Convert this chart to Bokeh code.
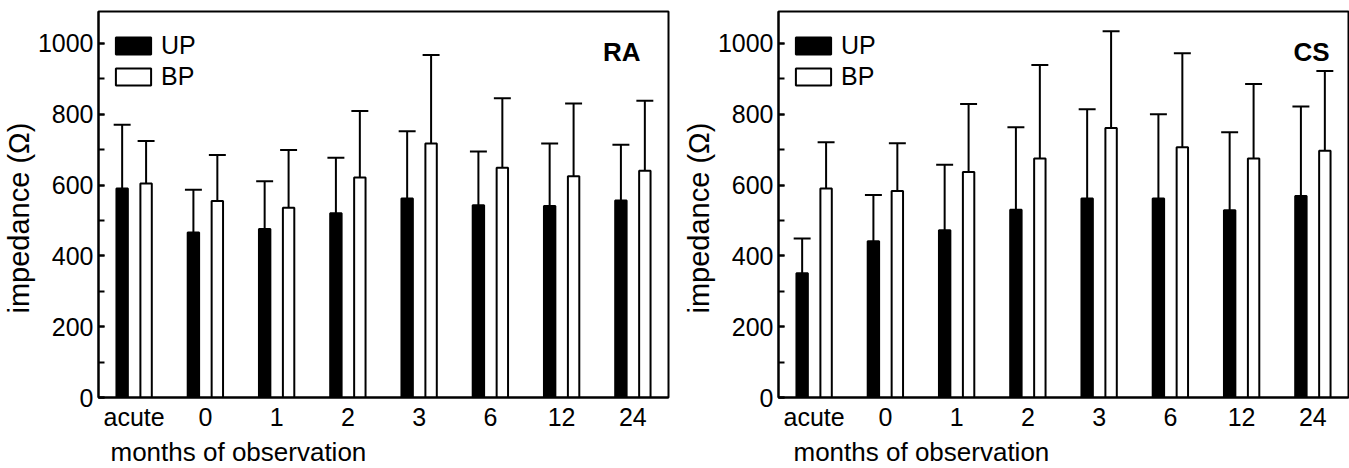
from bokeh.plotting import figure
from bokeh.layouts import row
from bokeh.models import (ColumnDataSource, FactorRange, Range1d, SingleIntervalTicker,
                          Legend, LegendItem, Label, Title)
from bokeh.transform import dodge
from bokeh.embed import file_html
from bokeh.resources import INLINE

# ---------------- data ----------------
categories = ["acute", "0", "1", "2", "3", "6", "12", "24"]

ra_up = [590, 466, 476, 520, 562, 543, 541, 556]
ra_up_top = [770, 587, 611, 677, 752, 695, 717, 714]
ra_bp = [604, 555, 536, 621, 717, 649, 625, 640]
ra_bp_top = [724, 685, 699, 809, 967, 845, 830, 838]

cs_up = [351, 441, 472, 530, 562, 562, 529, 569]
cs_up_top = [449, 572, 657, 763, 814, 800, 749, 822]
cs_bp = [590, 583, 637, 675, 761, 707, 675, 697]
cs_bp_top = [721, 718, 829, 939, 1034, 972, 885, 922]

series_labels = ["UP", "BP"]
y_label = "impedance (Ω)"
x_label = "months of observation"

FONT = "Liberation Sans"
OFF = 0.168
BW = 0.16
CAP = 0.119


def make_panel(tag, up, up_top, bp, bp_top, width, border_left, border_right,
               xlab_off, tag_x):
    p = figure(x_range=FactorRange(factors=categories), y_range=Range1d(0, 1090),
               width=width, height=468, output_backend="svg", toolbar_location=None,
               min_border_left=border_left, min_border_right=border_right,
               min_border_top=11, min_border_bottom=65)
    p.xgrid.visible = False
    p.ygrid.visible = False
    p.outline_line_color = "black"
    p.outline_line_width = 2
    p.outline_line_alpha = 1.0
    p.background_fill_color = "white"
    p.border_fill_color = "white"

    ya = p.yaxis[0]
    ya.ticker = SingleIntervalTicker(interval=200, num_minor_ticks=2)
    ya.axis_line_width = 2
    ya.major_tick_in = 6
    ya.major_tick_out = 0
    ya.minor_tick_in = 6
    ya.minor_tick_out = 0
    ya.major_tick_line_width = 2
    ya.minor_tick_line_width = 2
    ya.major_label_standoff = 5
    ya.major_label_text_font = FONT
    ya.major_label_text_font_size = "25px"
    ya.major_label_text_color = "black"

    xa = p.xaxis[0]
    xa.axis_line_width = 2
    xa.major_tick_line_color = None
    xa.minor_tick_line_color = None
    xa.major_tick_in = 0
    xa.major_tick_out = 0
    xa.major_label_standoff = 5
    xa.major_label_text_font = FONT
    xa.major_label_text_font_size = "25px"
    xa.major_label_text_color = "black"

    src = ColumnDataSource(dict(x=categories, up=up, up_top=up_top, bp=bp, bp_top=bp_top))
    rends = []
    for field, top, off, color in [("up", "up_top", -OFF, "black"),
                                   ("bp", "bp_top", OFF, "white")]:
        p.segment(x0=dodge("x", off, range=p.x_range), y0=field,
                  x1=dodge("x", off, range=p.x_range), y1=top,
                  line_color="black", line_width=2, source=src)
        p.segment(x0=dodge("x", off - CAP, range=p.x_range), y0=top,
                  x1=dodge("x", off + CAP, range=p.x_range), y1=top,
                  line_color="black", line_width=2, source=src)
        r = p.vbar(x=dodge("x", off, range=p.x_range), top=field, bottom=0, width=BW,
                   fill_color=color, line_color="black", line_width=2, source=src)
        rends.append(r)

    legend = Legend(items=[LegendItem(label=series_labels[0], renderers=[rends[0]]),
                           LegendItem(label=series_labels[1], renderers=[rends[1]])],
                    location=(13, 306), margin=0, padding=0, spacing=2,
                    glyph_width=44, glyph_height=21, label_standoff=6,
                    label_text_font=FONT, label_text_font_size="25px",
                    label_text_color="black",
                    border_line_color=None, background_fill_alpha=0)
    p.add_layout(legend)

    p.add_layout(Title(text=y_label, align="left", offset=84, standoff=0,
                       text_font=FONT, text_font_size="29px", text_font_style="normal",
                       text_color="black"), "left")
    p.add_layout(Title(text=x_label, align="left", offset=xlab_off, standoff=3,
                       text_font=FONT, text_font_size="26px", text_font_style="normal",
                       text_color="black"), "below")
    p.add_layout(Label(x=tag_x, y=346, x_units="screen", y_units="screen",
                       text=tag, text_align="right", text_baseline="alphabetic",
                       text_font=FONT, text_font_size="26px", text_font_style="bold",
                       text_color="black"))
    return p


p1 = make_panel("RA", ra_up, ra_up_top, ra_bp, ra_bp_top, 680, 96, 12, 12, 542)
p2 = make_panel("CS", cs_up, cs_up_top, cs_bp, cs_bp_top, 669, 97, 1, 15, 551)

layout = row(p1, p2)
open("out.html", "w").write(file_html(layout, INLINE))
